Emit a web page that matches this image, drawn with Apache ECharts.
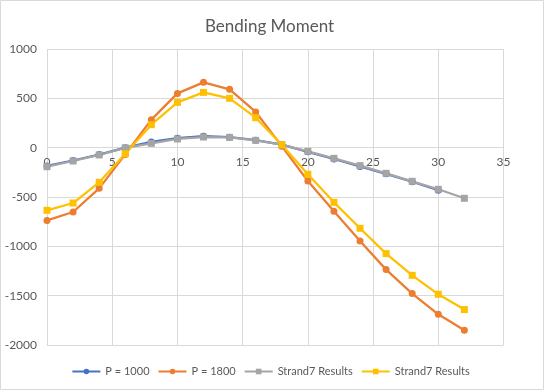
<!DOCTYPE html>
<html><head><meta charset="utf-8">
<script src="https://cdn.jsdelivr.net/npm/echarts@6/dist/echarts.min.js"></script>
<style>html,body{margin:0;padding:0;background:#fff}#c{width:544px;height:390px}</style>
</head><body><div id="c"></div>
<script>
const xValues = [0, 2, 4, 6, 8, 10, 12, 14, 16, 18, 20, 22, 24, 26, 28, 30, 32];
const p1000 = [-185, -130, -70, 0, 58, 96, 116, 106, 76, 30, -42, -115, -190, -265, -345, -432];
const p1800 = [-737, -652, -412, -68, 284, 550, 662, 591, 362, 15, -338, -645, -946, -1236, -1479, -1689, -1851];
const strand1000 = [-193, -135, -74, -2, 44, 88, 108, 104, 74, 30, -37, -108, -182, -260, -341, -422, -513];
const strand1800 = [-635, -561, -351, -61, 233, 459, 560, 500, 304, 30, -270, -554, -817, -1074, -1294, -1486, -1641];
const seriesNames = ['P = 1000', 'P = 1800', 'Strand7 Results', 'Strand7 Results '];
const xTicks = [0, 5, 10, 15, 20, 25, 30, 35];
const yTicks = [-2000, -1500, -1000, -500, 0, 500, 1000];

const pairs = arr => arr.map((v, i) => [xValues[i], v]);
const colors = ['#4472C4', '#ED7D31', '#A5A5A5', '#FFC000'];
const symbols = ['circle', 'circle', 'rect', 'rect'];
const datas = [p1000, p1800, strand1000, strand1800];
const font = 'Lato, "Open Sans", sans-serif';

const chart = echarts.init(document.getElementById('c'));
chart.setOption({
  animation: false,
  title: {
    text: 'Bending Moment', left: 200, top: 13,
    textStyle: { color: '#595959', fontSize: 17, fontWeight: 'normal', fontFamily: font }
  },
  graphic: [{
    type: 'rect', shape: { x: 0.5, y: 0.5, width: 543, height: 389 },
    style: { fill: null, stroke: '#d9d9d9', lineWidth: 1 }, silent: true
  }],
  grid: { left: 47, right: 40.5, top: 49, bottom: 45, containLabel: false },
  legend: {
    top: 361, left: 'center', itemWidth: 28, itemHeight: 7, itemGap: 8,
    textStyle: { color: '#595959', fontSize: 11, fontFamily: font },
    data: seriesNames
  },
  xAxis: {
    type: 'value', min: xTicks[0], max: xTicks[xTicks.length - 1], interval: 5,
    position: 'bottom', offset: 0,
    axisLine: { onZero: false, lineStyle: { color: '#d9d9d9' } },
    axisTick: { show: false },
    axisLabel: { color: '#595959', fontSize: 12, fontFamily: font, margin: 8 },
    splitLine: { show: true, lineStyle: { color: '#d9d9d9' } }
  },
  yAxis: {
    type: 'value', min: yTicks[0], max: yTicks[yTicks.length - 1], interval: 500,
    axisLine: { show: false, onZero: false }, axisTick: { show: false },
    axisLabel: { color: '#595959', fontSize: 12, fontFamily: font, margin: 10, formatter: v => String(v) },
    splitLine: { show: true, lineStyle: { color: '#d9d9d9' } }
  },
  series: datas.map((d, i) => ({
    name: seriesNames[i], type: 'line', data: pairs(d),
    symbol: symbols[i], symbolSize: 7, showAllSymbol: true,
    lineStyle: { color: colors[i], width: 2.25 },
    itemStyle: { color: colors[i] }
  }))
});
// Put the x axis (and its labels) on the y = 0 line, measured through the y scale.
const zeroY = chart.convertToPixel({ yAxisIndex: 0 }, 0);
const bottomY = chart.convertToPixel({ yAxisIndex: 0 }, yTicks[0]);
chart.setOption({ xAxis: { offset: zeroY - bottomY } });
</script></body></html>
